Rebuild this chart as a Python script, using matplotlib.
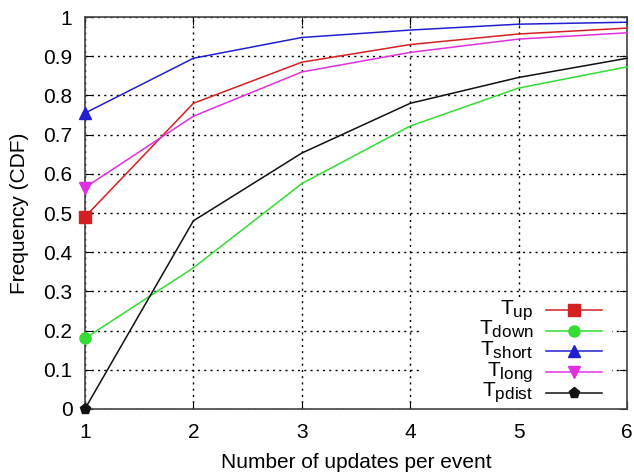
import matplotlib
matplotlib.use('Agg')
import matplotlib.pyplot as plt
import matplotlib._mathtext as mathtext_internal
from matplotlib.legend_handler import HandlerLine2D
from matplotlib.patches import Rectangle
from matplotlib.transforms import Affine2D

plt.rcParams['font.family'] = ['Liberation Sans', 'DejaVu Sans']
plt.rcParams['mathtext.fontset'] = 'custom'
plt.rcParams['mathtext.rm'] = 'Liberation Sans'
# keep the subscripts in the key fairly large
mathtext_internal.SHRINK_FACTOR = 0.82

updates = [1, 2, 3, 4, 5, 6]
t_up = [0.49, 0.78, 0.885, 0.93, 0.957, 0.972]
t_down = [0.18, 0.36, 0.575, 0.722, 0.819, 0.873]
t_short = [0.755, 0.895, 0.948, 0.967, 0.982, 0.987]
t_long = [0.565, 0.747, 0.86, 0.91, 0.944, 0.96]
t_pdist = [0.0, 0.48, 0.653, 0.78, 0.846, 0.895]

series = [
    (t_up, r'T$_{\rm up}$', '#d42020', 's'),
    (t_down, r'T$_{\rm down}$', '#33dd33', 'o'),
    (t_short, r'T$_{\rm short}$', '#2020d0', '^'),
    (t_long, r'T$_{\rm long}$', '#e030e0', 'v'),
    (t_pdist, r'T$_{\rm pdist}$', '#111111', 'p'),
]


class KeyLine(HandlerLine2D):
    # tall handle boxes keep the rows evenly spaced; drop the sample line
    # back down so it sits level with its label
    def create_artists(self, legend, orig_handle, xdescent, ydescent,
                       width, height, fontsize, trans):
        trans = Affine2D().translate(0, -0.37 * fontsize) + trans
        return super().create_artists(legend, orig_handle, xdescent, ydescent,
                                      width, height, fontsize, trans)


fig = plt.figure(figsize=(6.34, 4.76), dpi=100)
ax = fig.add_axes([0.134, 0.141, 0.855, 0.823])

lines = []
for vals, label, color, marker in series:
    ln, = ax.plot(updates, vals, color=color, lw=1.1, marker=marker, markersize=8,
                  markevery=[0], label=label, clip_on=False, zorder=3)
    lines.append(ln)

ax.set_xlim(1, 6)
ax.set_ylim(0, 1)
ax.set_xticks(updates)
ax.set_yticks([i / 10 for i in range(11)])
ax.set_yticklabels(['0', '0.1', '0.2', '0.3', '0.4', '0.5', '0.6', '0.7', '0.8', '0.9', '1'])
ax.grid(True, color='black', linestyle=(0, (1.5, 3)), linewidth=1)
ax.tick_params(direction='in', top=True, right=True, labelsize=15, length=6)
ax.tick_params(axis='y', pad=9)
ax.tick_params(axis='x', pad=10)
for sp in ax.spines.values():
    sp.set_color('#444444')
    sp.set_linewidth(1.2)

ax.set_xlabel('Number of updates per event', fontsize=15, labelpad=8)
ax.set_ylabel('Frequency (CDF)', fontsize=15, labelpad=10)

# white panel behind the key hides the grid there
ax.add_patch(Rectangle((0.616, 0.0), 0.356, 0.278, transform=ax.transAxes,
                       facecolor='white', edgecolor='none', zorder=2))

leg = ax.legend(loc='lower right', bbox_to_anchor=(0.958, 0.0), markerfirst=False,
                numpoints=1, handlelength=2.7, handleheight=2.1, fontsize=15,
                labelspacing=-0.62, handletextpad=0.6, borderpad=0.1,
                borderaxespad=0, frameon=False,
                handler_map={ln: KeyLine() for ln in lines})

fig.savefig('out.png', dpi=100)
